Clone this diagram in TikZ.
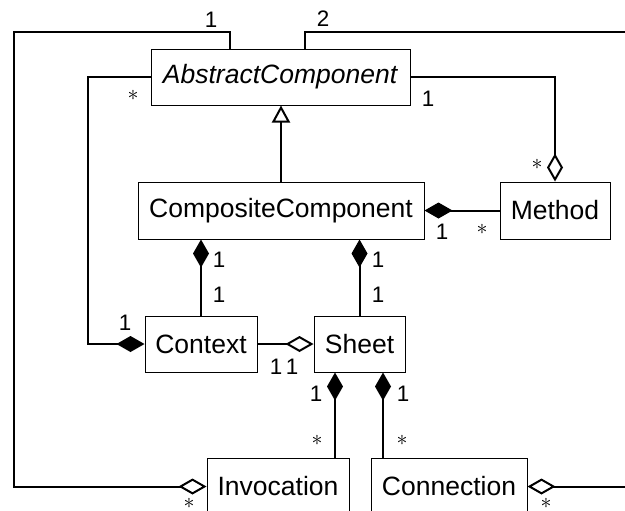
\documentclass[tikz,border=0pt]{standalone}
\usepackage{fontspec}
\setmainfont{Liberation Sans}
\usetikzlibrary{arrows.meta}

\tikzset{
  cls/.style={draw,line width=0.5pt,inner sep=0pt,font=\fontsize{13.25}{16}\selectfont},
  mult/.style={inner sep=0pt,font=\fontsize{11.2}{13}\selectfont},
  assoc/.style={line width=1pt},
  compo/.style={assoc,-{Diamond[length=14pt,width=8pt]}},
  aggr/.style={assoc,-{Diamond[open,length=14pt,width=8pt]}},
  inherit/.style={assoc,-{Triangle[open,length=8.5pt,width=9pt]}},
}

\begin{document}
\begin{tikzpicture}[x=0.5pt,y=-0.5pt]
		\useasboundingbox (0,0) rectangle (625,510);
		% classes
		\node[cls,minimum width=129.5pt,minimum height=28pt] (ac) at (280.5,77) {\textit{AbstractComponent}};
		\node[cls,minimum width=143pt,minimum height=28.5pt] (cc) at (281,210.5) {CompositeComponent};
		\node[cls,minimum width=55pt,minimum height=28.5pt] (meth) at (555,210.5) {Method};
		\node[cls,minimum width=56pt,minimum height=28pt] (ctx) at (201,344) {Context};
		\node[cls,minimum width=45.5pt,minimum height=28pt] (sheet) at (359.5,344) {Sheet};
		\node[cls,minimum width=71pt,minimum height=28.5pt] (inv) at (278,486.5) {Invocation};
		\node[cls,minimum width=78pt,minimum height=28.5pt] (conn) at (449,486.5) {Connection};
		% bend points
		\coordinate (lft) at (88,0);
		\coordinate (topl) at (14,32);
		\coordinate (topr) at (628,32);
		\coordinate (sinv) at ([xshift=28.5pt]inv.north);
		\coordinate (sconn) at ([xshift=-33pt]conn.north);
		% inheritance
		\draw[inherit] (cc.north) -- (cc.north |- ac.south);
		% aggregations
		\draw[aggr] (ac.east) -| (meth.north);
		\draw[aggr] ([xshift=-25.25pt]ac.north) |- (topl) |- (inv.west);
		\draw[aggr] ([xshift=12.25pt]ac.north) |- (topr) |- (conn.east);
		\draw[aggr] (ctx.east) -- (sheet.west);
		% compositions
		\draw[compo] (meth.west) -- (cc.east);
		\draw[compo] (ac.west) -| (lft |- ctx.west) -- (ctx.west);
		\draw[compo] (ctx.north) -- (ctx.north |- cc.south);
		\draw[compo] (sheet.north) -- (sheet.north |- cc.south);
		\draw[compo] (sinv) -- (sinv |- sheet.south);
		\draw[compo] (sconn) -- (sconn |- sheet.south);
		% multiplicities
		\node[mult] (m1) at (211,20) {1};
		\node[mult] (m2) at (323,19) {2};
		\node[mult] (m3) at (133,95) {$*$};
		\node[mult] (m4) at (428,99) {1};
		\node[mult] (m5) at (537,164) {$*$};
		\node[mult] (m6) at (442,232) {1};
		\node[mult] (m7) at (482,229) {$*$};
		\node[mult] (m8) at (219,260) {1};
		\node[mult] (m9) at (219,295) {1};
		\node[mult] (m10) at (378,260) {1};
		\node[mult] (m11) at (378,295) {1};
		\node[mult] (m12) at (125,323) {1};
		\node[mult] (m13) at (276,367) {1};
		\node[mult] (m14) at (292,367) {1};
		\node[mult] (m15) at (316,394) {1};
		\node[mult] (m16) at (403,394) {1};
		\node[mult] (m17) at (317,440) {$*$};
		\node[mult] (m18) at (402,440) {$*$};
		\node[mult] (m19) at (189,503) {$*$};
		\node[mult] (m20) at (546,503) {$*$};
	\end{tikzpicture}
\end{document}
